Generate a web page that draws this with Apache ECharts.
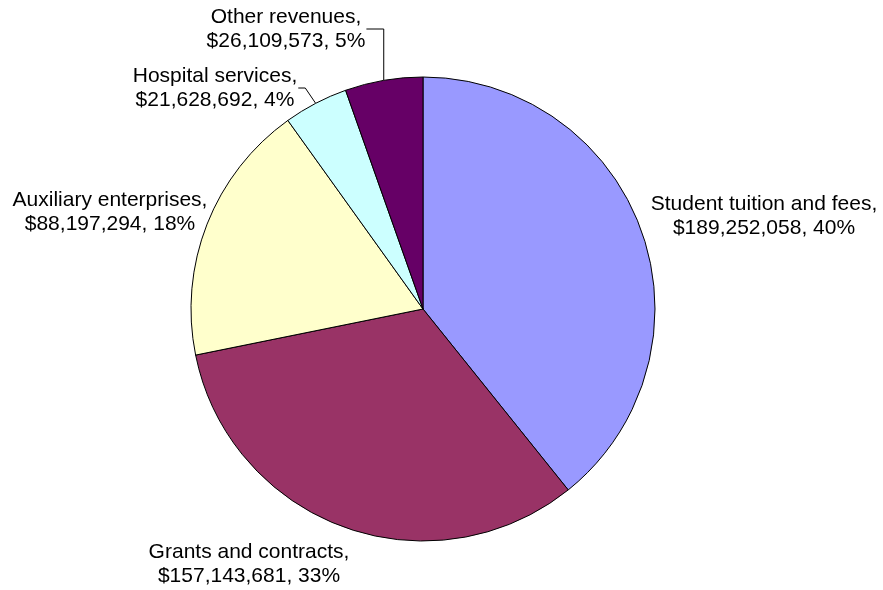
<!DOCTYPE html>
<html>
<head>
<meta charset="utf-8">
<script src="https://cdn.jsdelivr.net/npm/echarts@6/dist/echarts.min.js"></script>
<style>html,body{margin:0;padding:0;background:#fff;}#c{width:883px;height:590px;}</style>
</head>
<body>
<div id="c"></div>
<script>
const categories = ['Student tuition and fees', 'Grants and contracts', 'Auxiliary enterprises', 'Hospital services', 'Other revenues'];
const values = [189252058, 157143681, 88197294, 21628692, 26109573];
const pctLabels = [40, 33, 18, 4, 5];
const colors = ['#9999FF', '#993366', '#FFFFCC', '#CCFFFF', '#660066'];
// label centres (pixels) and whether a leader line is drawn
const labelPos = [[764, 216], [249, 564], [110, 212], [215, 88], [286, 29]];
const leader = [false, false, false, true, true];

function fmt(n) { return '$' + n.toString().replace(/\B(?=(\d{3})+(?!\d))/g, ','); }

const chart = echarts.init(document.getElementById('c'));
chart.setOption({
  animation: false,
  backgroundColor: '#ffffff',
  series: [{
    type: 'pie',
    center: [423, 309],
    radius: 232,
    startAngle: 90,
    clockwise: true,
    avoidLabelOverlap: false,
    itemStyle: { borderColor: '#000', borderWidth: 1 },
    label: {
      show: true,
      position: 'outside',
      fontFamily: 'Liberation Sans, Arial, sans-serif',
      fontSize: 21,
      lineHeight: 24,
      color: '#000',
      align: 'center',
      formatter: p => p.name + ',\n' + fmt(p.value) + ', ' + pctLabels[p.dataIndex] + '%'
    },
    labelLine: { show: true, length: 10, length2: 10, lineStyle: { color: '#000', width: 1 } },
    emphasis: { disabled: true },
    data: categories.map((c, i) => ({
      name: c, value: values[i],
      itemStyle: { color: colors[i] },
      labelLine: { show: leader[i] }
    })),
    labelLayout: function (p) {
      const i = p.dataIndex;
      const [x, y] = labelPos[i];
      const res = { x: x, y: y, align: 'center', verticalAlign: 'middle', hideOverlap: false, moveOverlap: null };
      if (leader[i] && p.labelLinePoints) {
        const a = p.labelLinePoints[0];
        const right = x + p.labelRect.width / 2 + 1;
        if (i === 4) {
          res.labelLinePoints = [a, [a[0], y], [right, y]];
        } else {
          res.labelLinePoints = [a, [right + 7, y], [right, y]];
        }
      }
      return res;
    }
  }]
});
</script>
</body>
</html>
